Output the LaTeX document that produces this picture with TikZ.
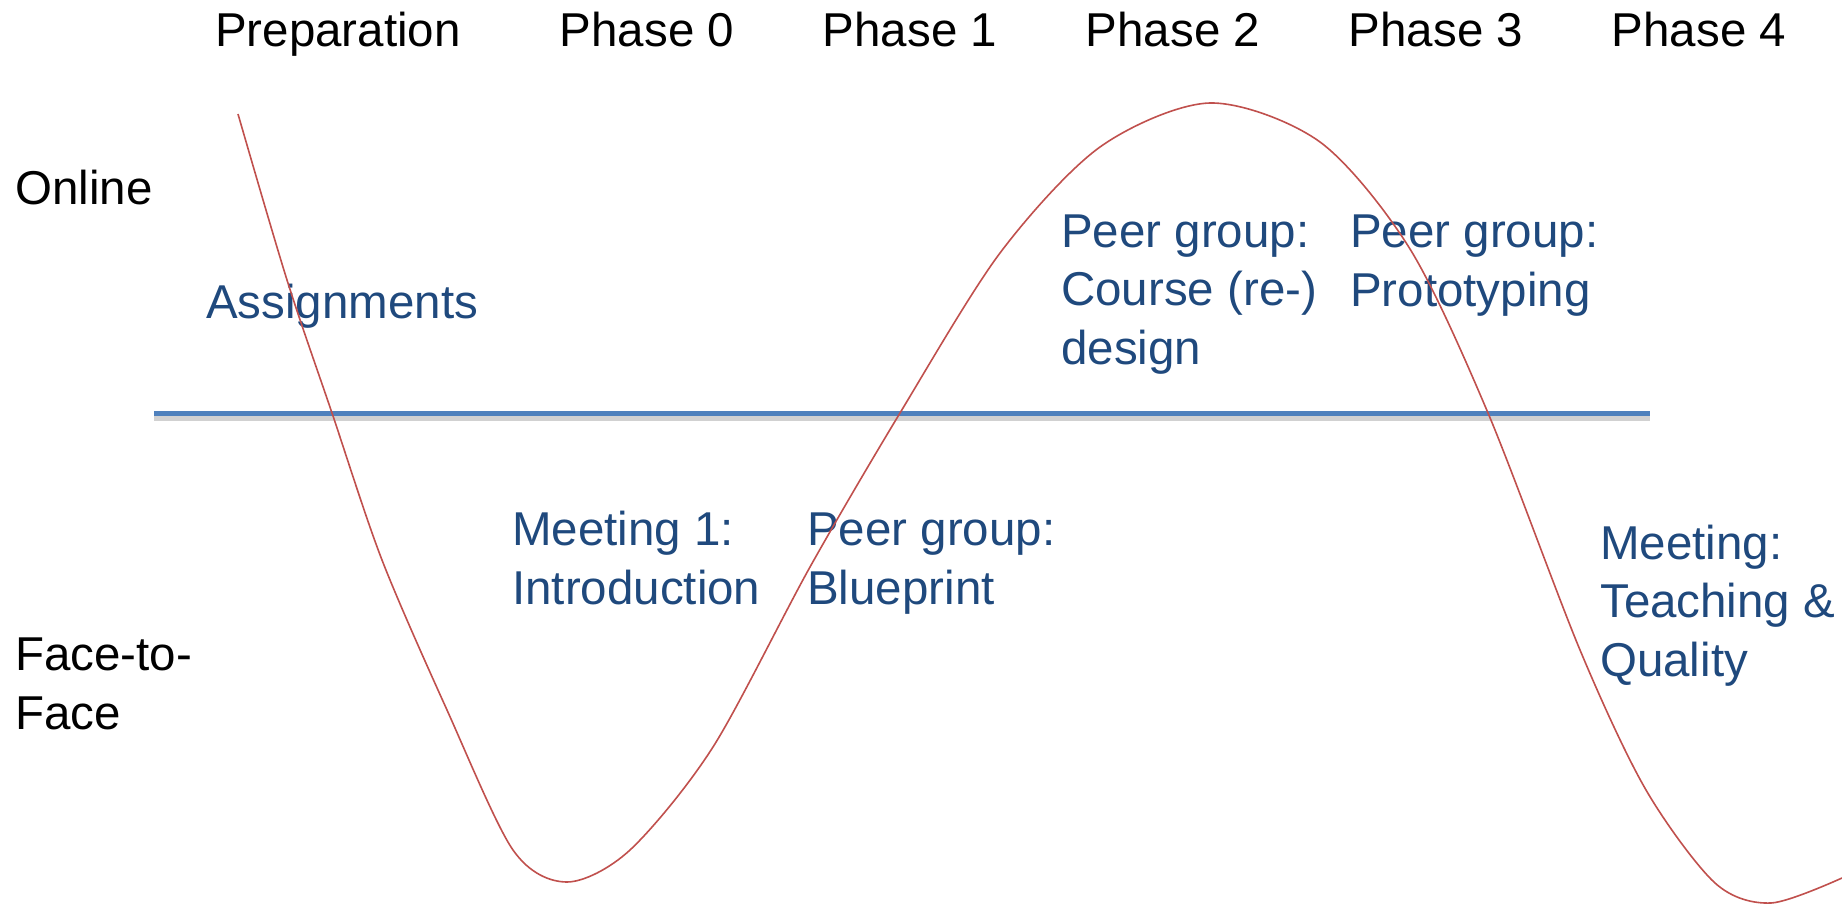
\documentclass[tikz,border=0pt]{standalone}
\usepackage{fontspec}
\setmainfont{Liberation Sans}
\usetikzlibrary{positioning}

\definecolor{taskblue}{RGB}{31,73,125}
\definecolor{wavered}{RGB}{192,80,77}
\definecolor{splitblue}{RGB}{79,129,189}

\tikzset{
    phase/.style={anchor=base, inner sep=0pt, font=\fontsize{47.5}{58.5}\selectfont},
    % multi-line nodes sit on the baseline of their last line
    mode/.style={anchor=base west, align=left, inner sep=0pt, font=\fontsize{47.5}{58.5}\selectfont},
    task/.style={mode, text=taskblue}
}

\begin{document}
\begin{tikzpicture}[x=1pt,y=-1pt]
    \useasboundingbox (0,0) rectangle (1842,904);
    % phase headings along the top
    \node[phase] (prep) at (338,47) {Preparation};
    \foreach \i in {0,...,4}
        \node[phase] (phase\i) at ({647+263*\i},47) {Phase \i};

    \node[mode] (online) at (15,205) {Online};
    \node[mode] (f2f) at (15,729) {Face-to-\\Face};

    % line between online and face-to-face, with its shadow
    \coordinate (split west) at (154,413);
    \coordinate (split east) at (1650,413);
    \draw[black, opacity=0.18, line width=5pt] ([yshift=-5pt]split west) -- ([yshift=-5pt]split east);
    \draw[splitblue, line width=5pt] (split west) -- (split east);

    % the activities
    \node[task] (assign) at (206,318) {Assignments};
    \node[task] (meet1) at (512,604) {Meeting 1:\\Introduction};
    \node[task] (blueprint) at (807,604) {Peer group:\\Blueprint};
    \node[task] (design) at (1061,364) {Peer group:\\Course (re-)\\design};
    \node[task] (proto) at (1350,306) {Peer group:\\Prototyping};
    \node[task] (quality) at (1600,676) {Meeting:\\Teaching \&\\Quality};

    % could be done with to[out,in] too, but a smooth plot follows it better
    \draw[wavered, line width=1.6pt] plot[smooth, tension=0.5] coordinates {
        (238,114) (287,280) (332,413) (382,560) (447,710) (513,850)
        (567,882) (630,850) (713,747) (810,567) (900,413)
        (1000,253) (1100,147) (1210,103) (1320,142) (1410,249)
        (1488,413) (1580,650)
        (1646,790) (1715,883) (1771,903) (1842,878)
    };
\end{tikzpicture}
\end{document}
